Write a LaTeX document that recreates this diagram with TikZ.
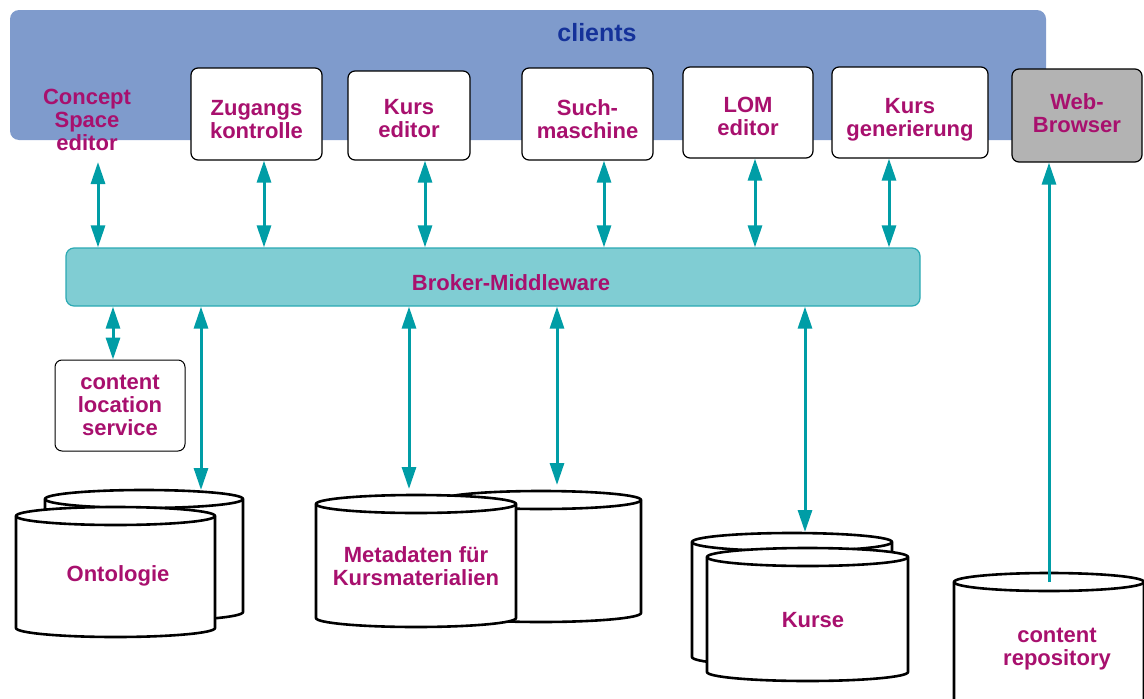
\documentclass[tikz,border=0pt]{standalone}
\usepackage{fontspec}
\setmainfont{Liberation Sans}
\usetikzlibrary{arrows.meta}

\definecolor{band}{HTML}{7F9BCC}
\definecolor{clienttext}{HTML}{15329A}
\definecolor{lbl}{HTML}{A8106E}
\definecolor{brokerfill}{HTML}{80CDD3}
\definecolor{brokerline}{HTML}{2BA9B3}
\definecolor{linkcol}{HTML}{009DA6}
\definecolor{browsergray}{HTML}{B3B3B3}

\tikzset{
  lbltext/.style={font=\bfseries\fontsize{22}{23}\selectfont, text=lbl, align=center, inner sep=0},
  clientbox/.style={draw=black, line width=1.2pt, fill=white, rounded corners=7pt, inner sep=0},
  twoway/.style={draw=linkcol, line width=3pt,
    {Triangle[length=22pt,width=14pt]}-{Triangle[length=22pt,width=14pt]}},
  oneway/.style={draw=linkcol, line width=3pt, -{Triangle[length=22pt,width=14pt]}},
  cylline/.style={draw=black, line width=2.6pt, fill=white},
}

% cylinder: centre x, top-ellipse y, bottom-ellipse y, half width, ellipse y radius
\newcommand\drumshape[5]{%
  \filldraw[cylline] (#1-#4,#2) -- (#1-#4,#3)
    arc[start angle=180,end angle=360,x radius=#4pt,y radius=#5pt]
    -- (#1+#4,#2)
    arc[start angle=0,end angle=180,x radius=#4pt,y radius=#5pt] -- cycle;
  \draw[cylline, fill=none] (#1-#4,#2)
    arc[start angle=180,end angle=360,x radius=#4pt,y radius=#5pt];
}

\begin{document}
\begin{tikzpicture}[x=1pt,y=-1pt]
\useasboundingbox (0,0) rectangle (1144,699);
\clip (0,0) rectangle (1144,699);

% client band
\fill[band, rounded corners=9pt] (10,10) rectangle (1046,140);
\node[font=\bfseries\fontsize{25}{27}\selectfont, text=clienttext] (clients) at (597,33) {clients};

% client components
\node[lbltext] (concept) at (87,120) {Concept\\Space\\editor};

\node[clientbox, minimum width=131pt, minimum height=92pt] (zug) at (256.5,114) {};
\node[lbltext] (zuglbl) at ([yshift=-5.5pt]zug.center) {Zugangs\\kontrolle};

\node[clientbox, minimum width=122pt, minimum height=89pt] (kurs) at (409,115.5) {};
\node[lbltext] (kurslbl) at ([yshift=-3pt]kurs.center) {Kurs\\editor};

\node[clientbox, minimum width=131pt, minimum height=92pt] (such) at (587.5,114) {};
\node[lbltext] (suchlbl) at ([yshift=-5pt]such.center) {Such-\\maschine};

\node[clientbox, minimum width=130pt, minimum height=91pt] (lom) at (748,112.5) {};
\node[lbltext] (lomlbl) at ([yshift=-4pt]lom.center) {LOM\\editor};

\node[clientbox, minimum width=156pt, minimum height=91pt] (gen) at (910,112.5) {};
\node[lbltext] (genlbl) at ([yshift=-7pt]gen.center) {Kurs\\generierung};

\node[clientbox, fill=browsergray, minimum width=130pt, minimum height=93pt] (web) at (1077,115.5) {};
\node[lbltext] (weblbl) at ([yshift=2pt]web.center) {Web-\\Browser};

% middleware
\node[draw=brokerline, line width=1.2pt, fill=brokerfill, rounded corners=8pt, inner sep=0,
      minimum width=854pt, minimum height=58pt] (broker) at (493,277) {};
\node[lbltext] (brokerlbl) at (511,283) {Broker-Middleware};

% content location service
\node[clientbox, line width=1pt, minimum width=130pt, minimum height=91pt] (cls) at (120,405.5) {};
\node[lbltext] (clslbl) at (cls.center) {content\\location\\service};

% data stores
\drumshape{144}{499}{612}{99}{9}
\drumshape{115.5}{516}{628}{99.5}{9}
\node[lbltext] (ont) at (118,576) {Ontologie};

\drumshape{541}{500}{613}{100}{9}
\drumshape{416}{504}{618}{100}{9}
\node[lbltext] (meta) at (416,566) {Metadaten für\\Kursmaterialien};

\drumshape{792}{542}{657}{100}{9}
\drumshape{807.5}{557}{672}{100.5}{9}
\node[lbltext] (kurse) at (813,620) {Kurse};

\drumshape{1049}{582}{730}{95}{9}
\node[lbltext] (repo) at (1057,649) {content\\repository};

% attachment points
\coordinate (conceptport) at (98,162);
\coordinate (ontport) at (201,490);
\coordinate (metaport) at (409,489);
\coordinate (metabackport) at (557,485);
\coordinate (kurseport) at (805,532);
\coordinate (repoport) at (1049,582);

% client <-> broker
\draw[twoway] (conceptport) -- (conceptport |- broker.north);
\draw[twoway] ([xshift=7.5pt]zug.south) -- ([xshift=7.5pt]zug.south |- broker.north);
\draw[twoway] ([xshift=16pt]kurs.south) -- ([xshift=16pt]kurs.south |- broker.north);
\draw[twoway] ([xshift=16.5pt]such.south) -- ([xshift=16.5pt]such.south |- broker.north);
\draw[twoway] ([xshift=7pt]lom.south) -- ([xshift=7pt]lom.south |- broker.north);
\draw[twoway] ([xshift=-21pt]gen.south) -- ([xshift=-21pt]gen.south |- broker.north);

% broker <-> services and stores
\draw[twoway] ([xshift=-7pt]cls.north |- broker.south) -- ([xshift=-7pt]cls.north);
\draw[twoway] (ontport |- broker.south) -- (ontport);
\draw[twoway] (metaport |- broker.south) -- (metaport);
\draw[twoway] (metabackport |- broker.south) -- (metabackport);
\draw[twoway] (kurseport |- broker.south) -- (kurseport);

% repository -> browser
\draw[oneway] (repoport) -- (repoport |- web.south);
\end{tikzpicture}
\end{document}
